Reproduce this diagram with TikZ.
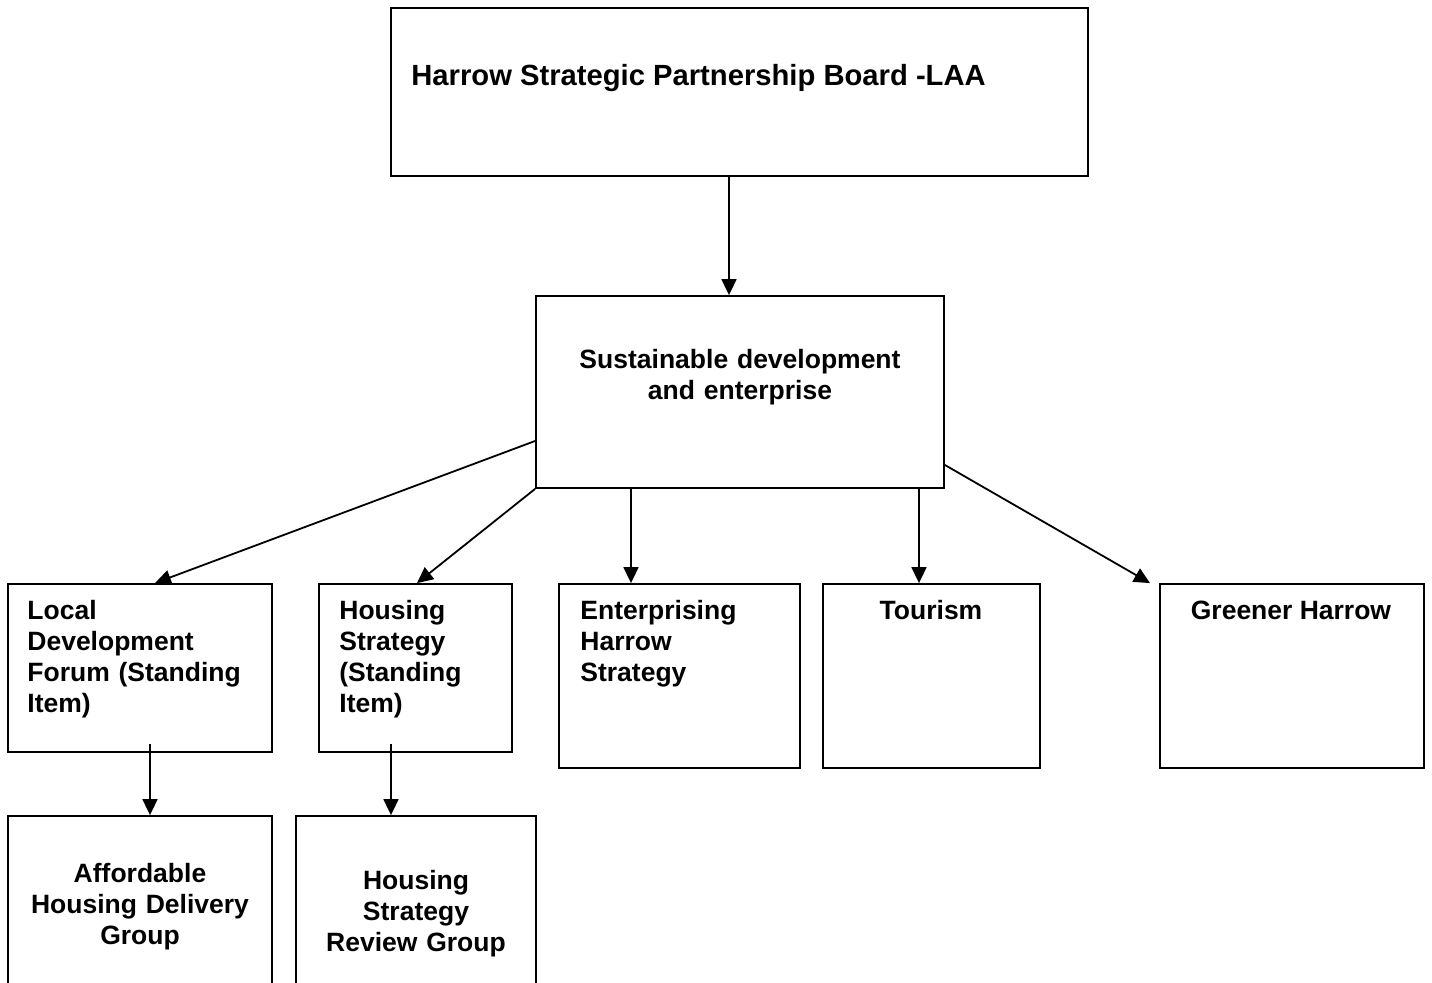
\documentclass[tikz,border=0pt]{standalone}
\usepackage{fontspec}
\setmainfont{Liberation Sans}
\usepackage{tikz}
\usetikzlibrary{arrows.meta,positioning,calc}

\begin{document}
\begin{tikzpicture}[x=0.5pt, y=-0.5pt, >={Triangle[length=8pt, width=7.5pt]},
    box/.style={draw, line width=0.9pt, inner sep=0pt},
    lbl/.style={inner sep=0pt, font=\fontsize{13.25}{15.5}\selectfont\bfseries},
    arr/.style={->, line width=0.9pt}]
    \useasboundingbox (0,0) rectangle (1432,983);
    \clip (0,0) rectangle (1432,983);

    % Boxes
    \node[box, minimum width=348.5pt, minimum height=84pt] (board) at (739.5, 92) {};
    \node[box, minimum width=204pt, minimum height=96pt] (sde) at (740, 392) {};
    \node[box, minimum width=132pt, minimum height=84pt] (ldf) at (140, 668) {};
    \node[box, minimum width=96.5pt, minimum height=84pt] (hs) at (415.5, 668) {};
    \node[box, minimum width=120.5pt, minimum height=92pt] (ehs) at (679.5, 676) {};
    \node[box, minimum width=108.5pt, minimum height=92pt] (tour) at (931.5, 676) {};
    \node[box, minimum width=132pt, minimum height=92pt] (green) at (1292, 676) {};
    \node[box, minimum width=132pt, minimum height=92pt] (ahdg) at (140, 908) {};
    \node[box, minimum width=120pt, minimum height=92pt] (hsrg) at (416, 908) {};

    % Texts
    \node[lbl, anchor=base west, font=\fontsize{14.6}{17}\selectfont\bfseries] (board-t) at (411, 86) {Harrow Strategic Partnership Board -LAA};
    \node[lbl, anchor=base, text width=190pt, align=center] (sde-t) at (740, 369) {Sustainable development\\and enterprise};
    \node[lbl, anchor=base west, text width=125pt, align=left] (ldf-t) at (27, 620) {Local\\Development\\Forum (Standing\\Item)};
    \node[lbl, anchor=base west, text width=85pt, align=left] (hs-t) at (339, 620) {Housing\\Strategy\\(Standing\\Item)};
    \node[lbl, anchor=base west, text width=105pt, align=left] (ehs-t) at (580, 620) {Enterprising\\Harrow\\Strategy};
    \node[lbl, anchor=base] (tour-t) at (931, 620) {Tourism};
    \node[lbl, anchor=base] (green-t) at (1291, 620) {Greener Harrow};
    \node[lbl, anchor=base, text width=125pt, align=center] (ahdg-t) at (140, 883) {Affordable\\Housing Delivery\\Group};
    \node[lbl, anchor=base, text width=115pt, align=center] (hsrg-t) at (416, 890) {Housing\\Strategy\\Review Group};

    % Arrows
    \coordinate (ldf-out) at (150, 744);
    \coordinate (hs-out) at (391, 744);
    \draw[arr] (board.south -| 729,0) -- (sde.north -| 729,0);
    \draw[arr] (sde.west |- 0,441) -- (ldf.north -| 155,0);
    \draw[arr] (sde.south west) -- (hs.north -| 417,0);
    \draw[arr] (sde.south -| 631,0) -- (ehs.north -| 631,0);
    \draw[arr] (sde.south -| 919,0) -- (tour.north -| 919,0);
    \draw[arr] (sde.east |- 0,465) -- (green.north -| 1150,0);
    \draw[arr] (ldf-out) -- (ahdg.north -| ldf-out);
    \draw[arr] (hs-out) -- (hsrg.north -| hs-out);
\end{tikzpicture}
\end{document}
